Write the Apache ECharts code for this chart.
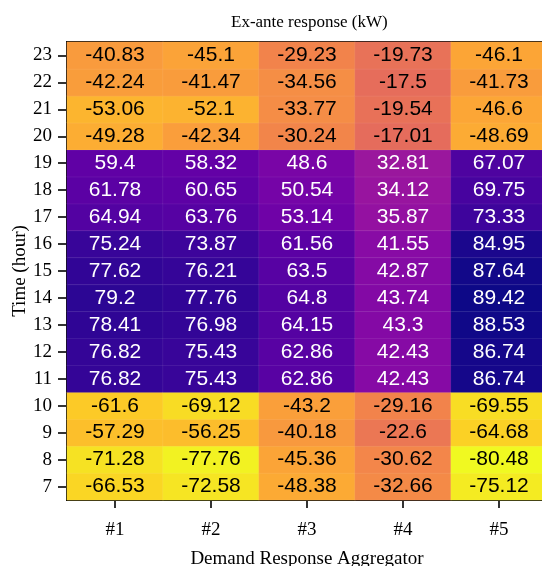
<!DOCTYPE html>
<html>
<head>
<meta charset="utf-8">
<script src="https://cdn.jsdelivr.net/npm/echarts@6/dist/echarts.min.js"></script>
<style>
  html, body { margin: 0; padding: 0; background: #fff; }
  #chart { width: 542px; height: 566px; }
</style>
</head>
<body>
<div id="chart"></div>
<script>
// aggregators along x, hours along y (bottom to top)
const aggregators = ['#1', '#2', '#3', '#4', '#5'];
const hours = ['7', '8', '9', '10', '11', '12', '13', '14', '15', '16', '17', '18', '19', '20', '21', '22', '23'];

// values per aggregator, one per hour from 7 to 23
const agg1 = [-66.53, -71.28, -57.29, -61.6, 76.82, 76.82, 78.41, 79.2, 77.62, 75.24, 64.94, 61.78, 59.4, -49.28, -53.06, -42.24, -40.83];
const agg2 = [-72.58, -77.76, -56.25, -69.12, 75.43, 75.43, 76.98, 77.76, 76.21, 73.87, 63.76, 60.65, 58.32, -42.34, -52.1, -41.47, -45.1];
const agg3 = [-48.38, -45.36, -40.18, -43.2, 62.86, 62.86, 64.15, 64.8, 63.5, 61.56, 53.14, 50.54, 48.6, -30.24, -33.77, -34.56, -29.23];
const agg4 = [-32.66, -30.62, -22.6, -29.16, 42.43, 42.43, 43.3, 43.74, 42.87, 41.55, 35.87, 34.12, 32.81, -17.01, -19.54, -17.5, -19.73];
const agg5 = [-75.12, -80.48, -64.68, -69.55, 86.74, 86.74, 88.53, 89.42, 87.64, 84.95, 73.33, 69.75, 67.07, -48.69, -46.6, -41.73, -46.1];

// plasma, reversed (low = yellow, high = dark blue)
const plasmaR = ['#f0f921', '#fcce25', '#fca636', '#f2844b', '#e16462', '#cc4778',
                 '#b12a90', '#8f0da4', '#6a00a8', '#41049d', '#0d0887'];

const columns = [agg1, agg2, agg3, agg4, agg5];
const data = [];
columns.forEach((col, x) => {
  col.forEach((v, y) => {
    data.push({
      value: [x, y, v],
      label: { color: v > 0 ? '#fff' : '#000' }
    });
  });
});

const all = columns.flat();
const vmin = Math.min(...all);
const vmax = Math.max(...all);

const serif = '"Liberation Serif", "Times New Roman", serif';
const sans = '"Liberation Sans", Arial, sans-serif';

const chart = echarts.init(document.getElementById('chart'));
chart.setOption({
  animation: false,
  title: {
    text: 'Ex-ante response (kW)',
    left: 226,
    top: 9,
    textStyle: { fontFamily: serif, fontSize: 17, fontWeight: 'normal', color: '#000' }
  },
  grid: {
    left: 67, top: 42, width: 480, height: 458,
    outerBoundsMode: 'none',
    containLabel: false,
    show: true, borderColor: '#000', borderWidth: 2, backgroundColor: 'transparent'
  },
  xAxis: {
    type: 'category',
    data: aggregators,
    name: 'Demand Response Aggregator',
    nameLocation: 'middle',
    nameGap: 50,
    nameMoveOverlap: false,
    nameTextStyle: { fontFamily: serif, fontSize: 19, color: '#000' },
    axisLine: { show: true, lineStyle: { color: '#000', width: 2 } },
    axisTick: { show: true, alignWithLabel: true, length: 8, lineStyle: { color: '#000', width: 1.6 } },
    axisLabel: { fontFamily: serif, fontSize: 19, color: '#000', margin: 21 },
    splitArea: { show: false }
  },
  yAxis: {
    type: 'category',
    data: hours,
    name: 'Time (hour)',
    nameLocation: 'middle',
    nameGap: 37,
    nameMoveOverlap: false,
    nameRotate: 90,
    nameTextStyle: { fontFamily: serif, fontSize: 19, color: '#000' },
    axisLine: { show: true, lineStyle: { color: '#000', width: 2 } },
    axisTick: { show: true, alignWithLabel: true, length: 9, lineStyle: { color: '#000', width: 1.6 } },
    axisLabel: { fontFamily: serif, fontSize: 19, color: '#000', margin: 15 },
    splitArea: { show: false }
  },
  visualMap: {
    show: false,
    min: vmin,
    max: vmax,
    dimension: 2,
    inRange: { color: plasmaR }
  },
  series: [{
    type: 'heatmap',
    data: data,
    label: {
      show: true,
      fontFamily: sans,
      fontSize: 21
    },
    itemStyle: { borderColor: 'rgba(255,255,255,0.12)', borderWidth: 0.6 }
  }]
});
</script>
</body>
</html>
